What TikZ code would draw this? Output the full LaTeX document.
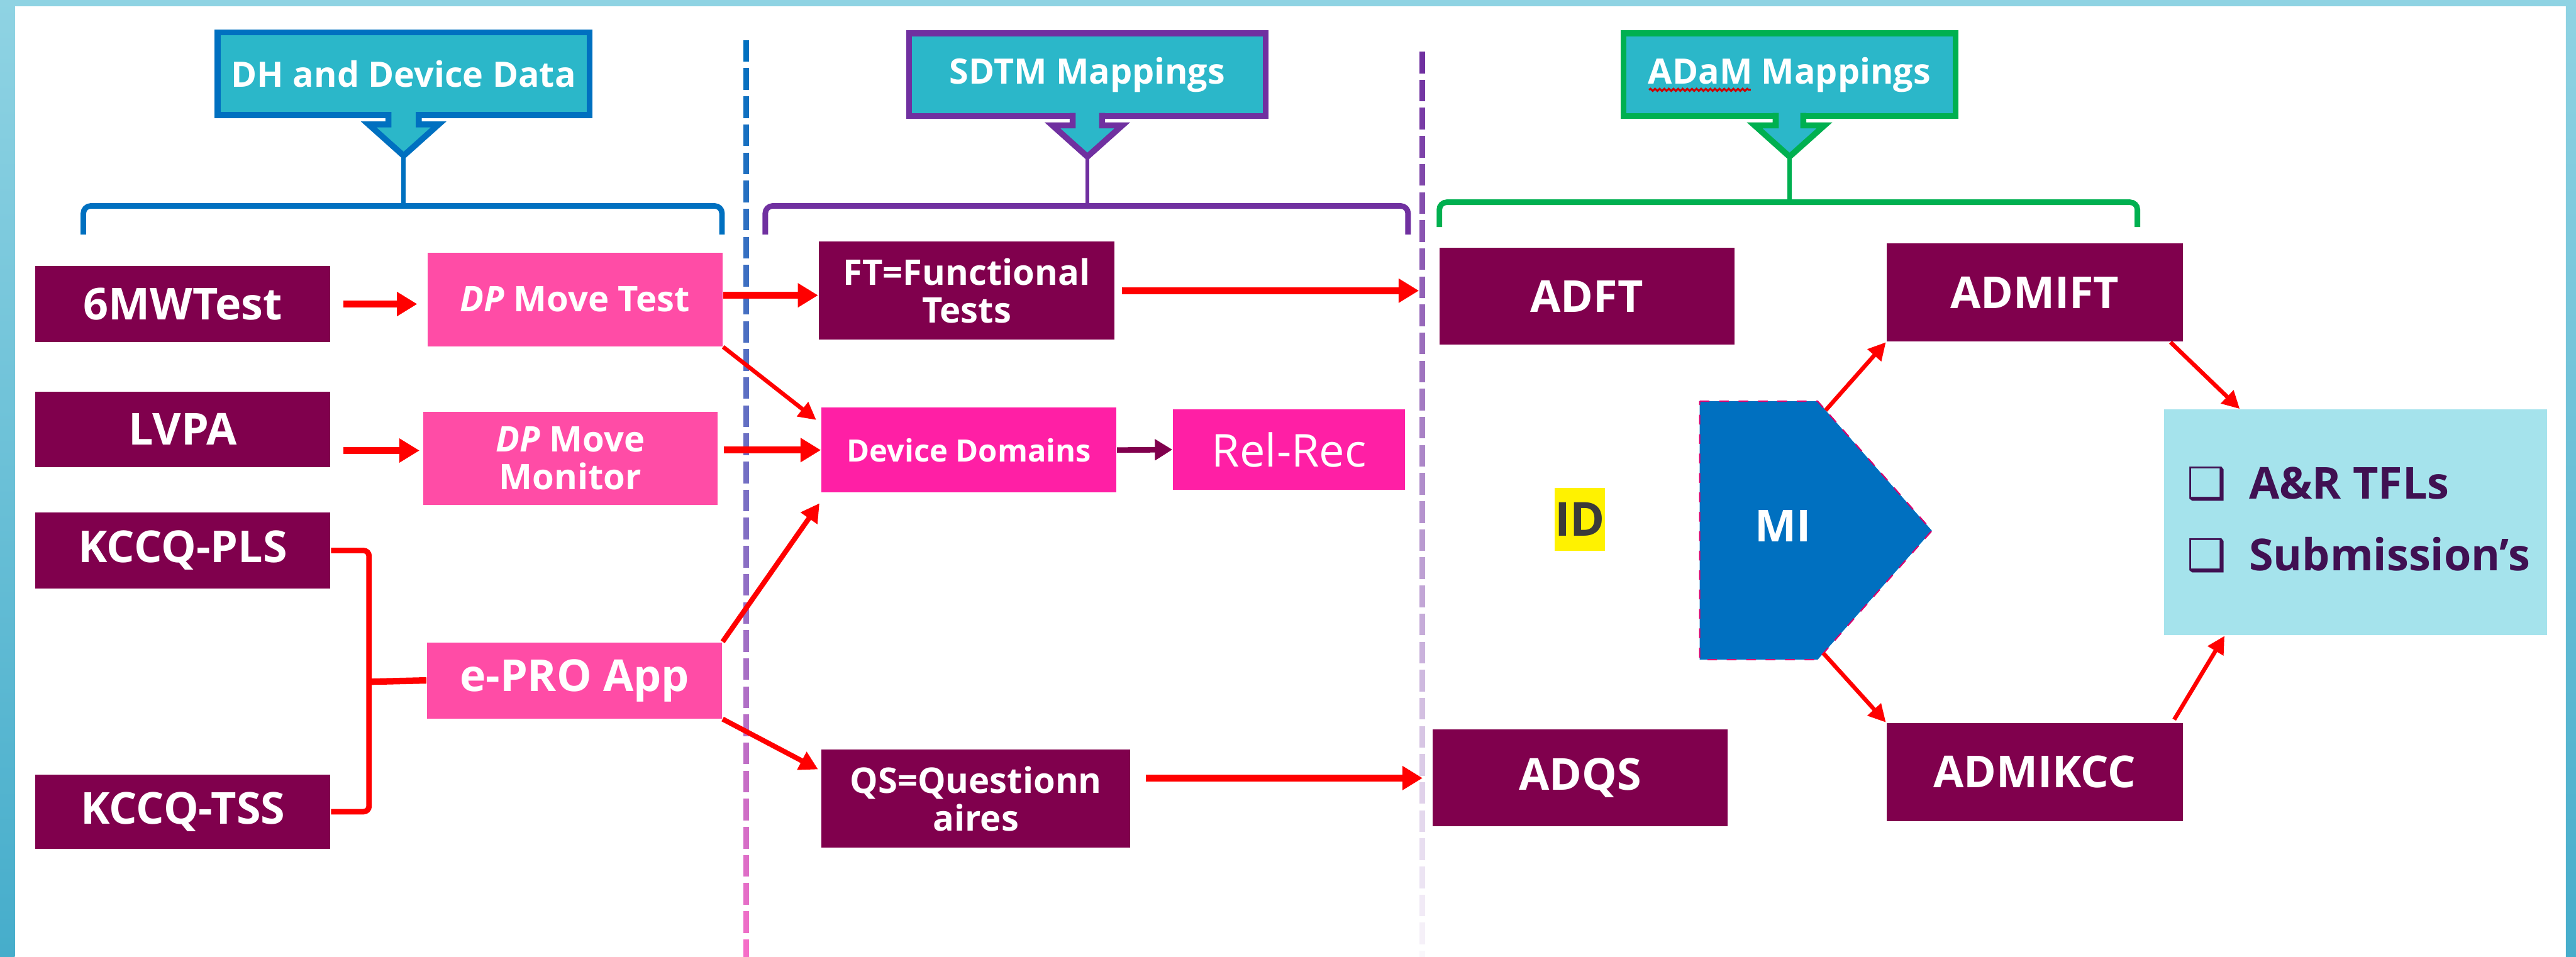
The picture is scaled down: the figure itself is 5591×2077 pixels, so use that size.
\documentclass[tikz,border=0pt]{standalone}
\usepackage{fontspec}
\setmainfont{Open Sans}
\newfontfamily\symfont{DejaVu Sans}
\usetikzlibrary{arrows.meta,calc,decorations.pathmorphing}

\definecolor{maroonbox}{RGB}{128,0,77}
\definecolor{pinkbox}{RGB}{255,76,166}
\definecolor{magentabox}{RGB}{255,31,165}
\definecolor{hdrteal}{RGB}{43,183,201}
\definecolor{dhblue}{RGB}{0,112,192}
\definecolor{sdtmpurple}{RGB}{112,48,160}
\definecolor{adamgreen}{RGB}{0,176,80}
\definecolor{outcyan}{RGB}{165,227,236}
\definecolor{outtext}{RGB}{64,16,82}
\definecolor{framelight}{RGB}{143,211,227}
\definecolor{framedark}{RGB}{70,173,203}
\definecolor{midash}{RGB}{214,0,110}
\definecolor{dashpink}{RGB}{255,110,200}
\definecolor{idgray}{RGB}{58,58,58}

\tikzset{
  every node/.style={inner sep=0pt},
  box/.style={rectangle, align=center, text=white, minimum width=32mm,
    font=\fontsize{13.6}{15}\selectfont\bfseries},
  srcbox/.style={box, fill=maroonbox, minimum height=8.2mm},
  devbox/.style={box, fill=pinkbox, minimum height=10.15mm,
    font=\fontsize{10.9}{11.6}\selectfont\bfseries},
  dombox/.style={box, fill=maroonbox, minimum height=10.65mm,
    font=\fontsize{10.9}{11.6}\selectfont\bfseries},
  adbox/.style={box, fill=maroonbox, minimum height=10.5mm},
  hdr/.style={rectangle, fill=hdrteal, line width=0.65mm, text=white,
    minimum height=8.95mm, font=\fontsize{10.8}{12}\selectfont\bfseries},
  hdrtip/.style={fill=hdrteal, line width=0.65mm},
  brace/.style={line width=0.6mm, rounded corners=0.8mm},
  flow/.style={red, line width=0.75mm, -{Triangle[length=2.2mm,width=2.5mm]}},
  midflow/.style={red, line width=0.55mm, -{Triangle[length=2mm,width=2.1mm]}},
  slimflow/.style={red, line width=0.45mm, -{Triangle[length=1.9mm,width=1.9mm]}},
}

\begin{document}
\begin{tikzpicture}[x=0.05mm, y=-0.05mm]
  \useasboundingbox (0,0) rectangle (5591,2077);

  % frame
  \shade[top color=framelight, bottom color=framedark] (0,0) rectangle (32,2077);
  \shade[top color=framelight, bottom color=framedark] (5569,0) rectangle (5591,2077);
  \fill[framelight] (0,0) rectangle (5591,14);

  % dashed separators
  \foreach \k in {0,...,32} {
    \pgfmathtruncatemacro\shadepc{100-3*\k}
    \draw[line width=0.6mm, dhblue!\shadepc!dashpink] (1619,87+61*\k) -- ++(0,47);
    \draw[line width=0.6mm, sdtmpurple!\shadepc!white] (3087,112+61*\k) -- ++(0,47);
  }

  % headers with their pointers
  \node[hdr, draw=dhblue, minimum width=40.35mm] (dhhdr) at (876,160) {DH and Device Data};
  \path[hdrtip, draw=dhblue, shift={(876,0)}]
    (-33,243) -- (-33,270) -- (-76,270) -- (0,338) -- (76,270) -- (33,270) -- (33,243);
  \node[hdr, draw=sdtmpurple, minimum width=38.7mm] (sdtmhdr) at (2360,162) {SDTM Mappings};
  \path[hdrtip, draw=sdtmpurple, shift={(2360,0)}]
    (-32,245) -- (-32,272) -- (-76,272) -- (0,340) -- (76,272) -- (32,272) -- (32,245);
  \node[hdr, draw=adamgreen, minimum width=36.05mm] (adamhdr) at (3884,162) {ADaM Mappings};
  \path[hdrtip, draw=adamgreen, shift={(3884,0)}]
    (-30,245) -- (-30,272) -- (-76,272) -- (0,340) -- (76,272) -- (30,272) -- (30,245);
  \draw[red!80!black, line width=0.2mm, decorate,
    decoration={snake, amplitude=0.12mm, segment length=0.5mm}]
    ($(adamhdr.center)+(-305,33)$) -- ($(adamhdr.center)+(-84,33)$);

  % braces
  \coordinate (dhtip) at (876,338);
  \coordinate (dhmid) at (876,447);
  \coordinate (sdtmtip) at (2360,340);
  \coordinate (sdtmmid) at (2360,447);
  \coordinate (adamtip) at (3884,340);
  \coordinate (adammid) at (3884,439);
  \draw[brace, dhblue] (181,509) -- (181,447) -- (1567,447) -- (1567,509);
  \draw[brace, sdtmpurple] (1661,509) -- (1661,447) -- (3056,447) -- (3056,509);
  \draw[brace, adamgreen] (3124,493) -- (3124,439) -- (4639,439) -- (4639,493);
  \draw[dhblue, line width=0.45mm] (dhtip) -- (dhmid);
  \draw[sdtmpurple, line width=0.45mm] (sdtmtip) -- (sdtmmid);
  \draw[adamgreen, line width=0.45mm] (adamtip) -- (adammid);

  % source data
  \node[srcbox] (sixmw) at (397,660) {6MWTest};
  \node[srcbox] (lvpa) at (397,932) {LVPA};
  \node[srcbox] (pls) at (397,1195) {KCCQ-PLS};
  \node[srcbox, minimum height=8mm] (tss) at (397,1762) {KCCQ-TSS};

  % devices
  \node[devbox] (dpmt) at (1248,650) {{\itshape DP} Move Test};
  \node[devbox] (dpmm) at (1238,995) {{\itshape DP} Move\\Monitor};
  \node[box, fill=pinkbox, minimum height=8.25mm] (epro) at (1247,1477) {e-PRO App};

  % SDTM
  \node[dombox, minimum width=32.1mm] (ft) at (2098,631) {FT=Functional\\Tests};
  \node[box, fill=magentabox, minimum height=9.2mm,
    font=\fontsize{9.5}{11}\selectfont\bfseries] (dd) at (2103,977) {Device Domains};
  \node[box, fill=magentabox, minimum width=25.2mm, minimum height=8.75mm,
    font=\fontsize{14}{15}\selectfont] (relrec) at (2798,976) {Rel-Rec};
  \node[dombox, minimum width=33.5mm] (qs) at (2118,1734) {QS=Questionn\\aires};

  % ADaM
  \node[adbox] (adft) at (3444,643) {ADFT};
  \node[adbox] (adqs) at (3430,1689) {ADQS};
  \node[adbox, minimum width=32.15mm, minimum height=10.65mm] (admift) at (4416,635) {ADMIFT};
  \node[adbox, minimum width=32.15mm, minimum height=10.65mm] (admikcc) at (4416,1676) {ADMIKCC};
  \node[fill=yellow, text=idgray, minimum height=6.8mm,
    font=\fontsize{14.5}{15}\selectfont\bfseries] (idtag) at (3429,1127) {ID};

  \coordinate (minw) at (3689,871);
  \coordinate (mine) at (3945,871);
  \coordinate (mitip) at (4193,1152);
  \coordinate (mise) at (3945,1432);
  \coordinate (misw) at (3689,1432);
  \filldraw[fill=dhblue, draw=midash, dashed, line width=0.15mm]
    (minw) -- (mine) -- (mitip) -- (mise) -- (misw) -- cycle;
  \node[text=white, font=\fontsize{13.6}{15}\selectfont\bfseries] (mi) at (3870,1142) {MI};

  % outputs
  \node[fill=outcyan, minimum width=41.55mm, minimum height=24.5mm] (tfl) at (5113,1134) {};
  \node[anchor=west, align=left, text=outtext,
    font=\fontsize{13.6}{22.2}\selectfont\bfseries] (tfltext) at (4745,1128)
    {{\symfont ❑}\hspace{7pt}A\&R TFLs\\{\symfont ❑}\hspace{7pt}Submission’s};

  % flows
  \draw[flow, shorten <=1.35mm, shorten >=1.05mm] (sixmw.east) -- (sixmw.east -| dpmt.west);
  \draw[flow, shorten <=1.35mm, shorten >=0.3mm] ($(lvpa.east)+(0,46)$) -- ($(dpmm.west)+(0,-17)$);
  \draw[flow] ($(dpmt.east)+(0,-9)$) -- ($(ft.west)+(0,10)$);
  \draw[flow, shorten <=0.75mm, shorten >=2.15mm] (ft.east) -- (ft.east -| adft.west);
  \draw[slimflow] (dpmt.south east) -- ($(dd.north west)+(-10,28)$);
  \draw[flow, shorten <=0.6mm] (dpmm.east |- dd.west) -- (dd.west);
  \draw[midflow] (epro.north east) -- ($(dd.south west)+(-3,22)$);
  \draw[midflow] (epro.south east) -- ($(qs.north west)+(-6,44)$);
  \draw[flow, shorten <=1.6mm, shorten >=1.05mm] (adqs.west -| qs.east) -- (adqs.west);
  \draw[maroonbox, line width=0.6mm, -{Triangle[length=1.9mm,width=2.2mm]}] (dd.east) -- (relrec.west);

  \coordinate (join) at (801,1480);
  \draw[red, line width=0.6mm, rounded corners=0.6mm] (pls.east) -| (join) |- (tss.east);
  \draw[red, line width=0.7mm] (join) -- (epro.west);

  \draw[slimflow] ($(mine)!0.07!(mitip)$) -- (admift.south west);
  \draw[slimflow] ($(mise)!0.05!(mitip)$) -- (admikcc.north west);
  \draw[slimflow] ($(admift.south east)+(-28,0)$) -- ($(tfl.north west)+(165,0)$);
  \draw[slimflow] ($(admikcc.north east)+(-20,-6)$) -- ($(tfl.south west)+(132,0)$);
\end{tikzpicture}
\end{document}
